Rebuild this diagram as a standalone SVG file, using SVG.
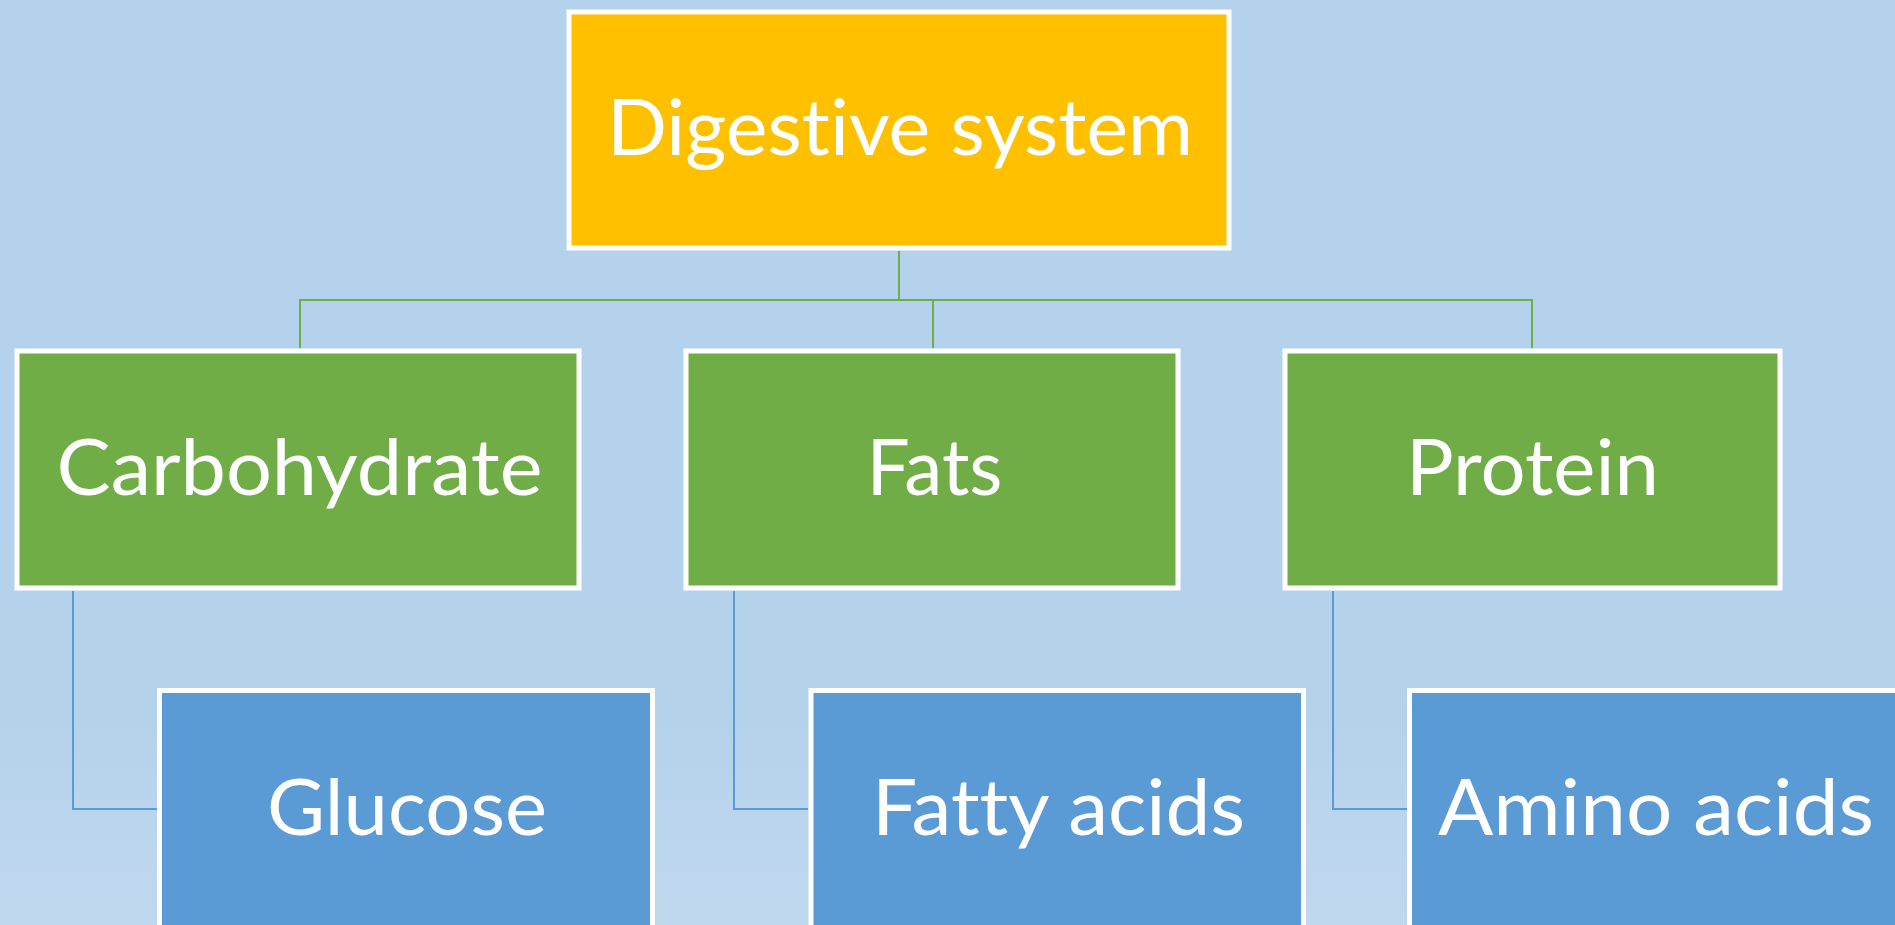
<svg xmlns="http://www.w3.org/2000/svg" width="1895" height="925" viewBox="0 0 1895 925">
<defs>
<linearGradient id="bg" x1="0" y1="0" x2="0" y2="1">
<stop offset="0" stop-color="#B4D2EB"/>
<stop offset="0.78" stop-color="#B5D2EB"/>
<stop offset="1" stop-color="#C0D8EE"/>
</linearGradient>
<style>
.box{stroke:#FFFFFF;stroke-width:5}
.top{fill:#FFC000}
.mid{fill:#70AD47}
.low{fill:#5B9BD5}
.lbl{font-family:Lato,"Open Sans",sans-serif;font-size:78px;fill:#FFFFFF;text-anchor:middle;font-variant-ligatures:none;font-feature-settings:"liga" 0,"clig" 0}
.cg{fill:none;stroke:#70AD47;stroke-width:2}
.cb{fill:none;stroke:#5B9BD5;stroke-width:2}
</style>
</defs>
<rect x="0" y="0" width="1895" height="925" fill="url(#bg)"/>
<g id="connectors">
<path class="cg" d="M899,251 V300 M300,348 V300 H1532 V348 M933,300 V348"/>
<path class="cb" d="M73,591 V809 H157"/>
<path class="cb" d="M734,591 V809 H808"/>
<path class="cb" d="M1333,591 V809 H1407"/>
</g>
<g id="digestive-system">
<rect class="box top" x="569" y="12" width="660" height="236"/>
<text class="lbl" x="900" y="155" textLength="586" lengthAdjust="spacingAndGlyphs">Digestive system</text>
</g>
<g id="carbohydrate">
<rect class="box mid" x="17" y="351" width="562" height="237"/>
<text class="lbl" x="299.5" y="495" textLength="486" lengthAdjust="spacingAndGlyphs">Carbohydrate</text>
</g>
<g id="fats">
<rect class="box mid" x="686" y="351" width="492" height="237"/>
<text class="lbl" x="934.5" y="495" textLength="136" lengthAdjust="spacingAndGlyphs">Fats</text>
</g>
<g id="protein">
<rect class="box mid" x="1285" y="351" width="495" height="237"/>
<text class="lbl" x="1532.5" y="495" textLength="253" lengthAdjust="spacingAndGlyphs">Protein</text>
</g>
<g id="glucose">
<rect class="box low" x="159.5" y="690.5" width="493" height="240"/>
<text class="lbl" x="407" y="835" textLength="280" lengthAdjust="spacingAndGlyphs">Glucose</text>
</g>
<g id="fatty-acids">
<rect class="box low" x="811" y="690.5" width="492.5" height="240"/>
<text class="lbl" x="1058.5" y="835" textLength="373" lengthAdjust="spacingAndGlyphs">Fatty acids</text>
</g>
<g id="amino-acids">
<rect class="box low" x="1409.5" y="690.5" width="495" height="240"/>
<text class="lbl" x="1656" y="835" textLength="436" lengthAdjust="spacingAndGlyphs">Amino acids</text>
</g>
</svg>
